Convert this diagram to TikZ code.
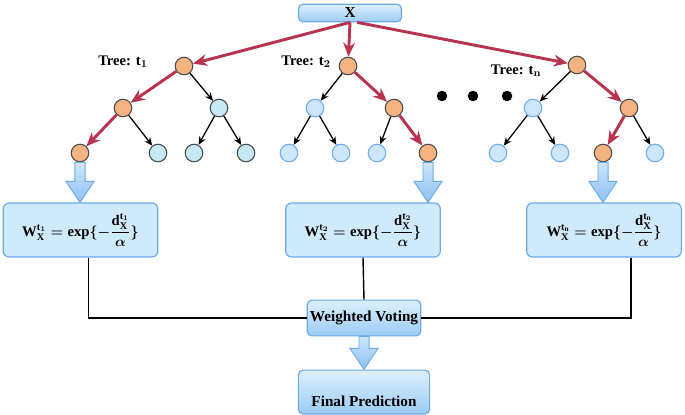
\documentclass[tikz,border=0pt]{standalone}
\usepackage{amsmath}
\usepackage{fontspec}
\setmainfont{Liberation Serif}
\usetikzlibrary{arrows.meta,calc}

\definecolor{pathred}{HTML}{B8334F}
\definecolor{hitorange}{HTML}{F6B382}
\definecolor{missgray}{HTML}{C6E9F6}
\definecolor{missblue}{HTML}{CDE6FA}
\definecolor{missline}{HTML}{6AAEF0}
\definecolor{boxfill}{HTML}{CFEAFB}
\definecolor{boxline}{HTML}{6AAAEA}
\definecolor{boxtop}{HTML}{DCF0FD}
\definecolor{boxbot}{HTML}{9CCBF4}
\definecolor{arrtop}{HTML}{CCE6FC}
\definecolor{arrbot}{HTML}{8CC0F2}

\tikzset{
  hit/.style={circle, draw=black!70, fill=hitorange, line width=0.9pt, minimum size=15pt, inner sep=0pt},
  missg/.style={circle, draw=black!70, fill=missgray, line width=0.9pt, minimum size=15pt, inner sep=0pt},
  missb/.style={circle, draw=missline, fill=missblue, line width=0.9pt, minimum size=15pt, inner sep=0pt},
  redge/.style={-{Stealth[length=12pt,width=10pt]}, line width=2.5pt, pathred},
  bedge/.style={-{Stealth[length=7pt,width=6pt]}, line width=1.1pt},
  formbox/.style={draw=boxline, fill=boxfill, line width=1pt, rounded corners=5pt,
    minimum width=132pt, minimum height=46pt, font=\fontsize{12.5}{14}\selectfont\bfseries\boldmath},
  shadebox/.style={draw=boxline, top color=boxtop, bottom color=boxbot, line width=1pt, rounded corners=4pt,
    font=\fontsize{13}{15}\selectfont\bfseries},
  fatarr/.style={draw=boxline, line width=0.8pt, top color=arrtop, bottom color=arrbot},
  treelabel/.style={font=\fontsize{12.5}{14}\selectfont\bfseries\boldmath},
  dot/.style={circle, fill=black, minimum size=9pt, inner sep=0pt},
  vote/.style={line width=1.2pt}
}

\newcommand{\fatarrow}[2]{%
  \draw[fatarr] let \p1=(#1), \p2=(#2) in
    (\x1-4.3pt,\y1) -- (\x1-4.3pt,\y2+18pt) -- (\x1-12pt,\y2+18pt) -- (\x1,\y2)
    -- (\x1+12pt,\y2+18pt) -- (\x1+4.3pt,\y2+18pt) -- (\x1+4.3pt,\y1) -- cycle;}

\begin{document}
\begin{tikzpicture}[x=0.03cm, y=-0.03cm]
\useasboundingbox (0,0) rectangle (685,414);

% input
\node[shadebox, minimum width=88pt, minimum height=15pt, inner sep=0pt] (x) at (350,13) {X};

% tree t1
\node[hit] (root1) at (184,66) {};
\node[hit] (n1L) at (123,108) {};
\node[missg] (n1R) at (219,108) {};
\node[hit] (n1LL) at (80,153) {};
\node[missg] (n1LR) at (158,153) {};
\node[missg] (n1RL) at (194,153) {};
\node[missg] (n1RR) at (246,153) {};
\node[treelabel] (lab1) at (123,62) {Tree: t$_1$};

% tree t2
\node[hit] (root2) at (348,66) {};
\node[missb] (n2L) at (315,108) {};
\node[hit] (n2R) at (394,108) {};
\node[missb] (n2LL) at (289,153) {};
\node[missb] (n2LR) at (341,153) {};
\node[missb] (n2RL) at (377,153) {};
\node[hit] (n2RR) at (428,153) {};
\node[treelabel] (lab2) at (306,62) {Tree: t$_2$};

% tree tn
\node[hit] (root3) at (577,65) {};
\node[missb] (n3L) at (533,108) {};
\node[hit] (n3R) at (629,108) {};
\node[missb] (n3LL) at (498,153) {};
\node[missb] (n3LR) at (560,153) {};
\node[hit] (n3RL) at (603,153) {};
\node[missb] (n3RR) at (655,153) {};
\node[treelabel] (lab3) at (516,71) {Tree: t$_{\mathbf{n}}$};

\node[dot] (d1) at (442,96) {};
\node[dot] (d2) at (473,96) {};
\node[dot] (d3) at (507,96) {};

% edges
\draw[redge] (x.south) -- (root1);
\draw[redge] (x.south) -- (root2);
\draw[redge] ([xshift=6pt]x.south) -- (root3);

\draw[redge] (root1) -- (n1L);
\draw[redge] (n1L) -- (n1LL);
\draw[bedge] (root1) -- (n1R);
\draw[bedge] (n1L) -- (n1LR);
\draw[bedge] (n1R) -- (n1RL);
\draw[bedge] (n1R) -- (n1RR);

\draw[redge] (root2) -- (n2R);
\draw[redge] (n2R) -- (n2RR);
\draw[bedge] (root2) -- (n2L);
\draw[bedge] (n2L) -- (n2LL);
\draw[bedge] (n2L) -- (n2LR);
\draw[bedge] (n2R) -- (n2RL);

\draw[redge] (root3) -- (n3R);
\draw[redge] (n3R) -- (n3RL);
\draw[bedge] (root3) -- (n3L);
\draw[bedge] (n3L) -- (n3LL);
\draw[bedge] (n3L) -- (n3LR);
\draw[bedge] (n3R) -- (n3RR);

% weights
\node[formbox] (f1) at (80.5,230) {$\textbf{W}^{\textbf{t}_1}_{\textbf{X}} = \textbf{exp}\{-\dfrac{\textbf{d}^{\textbf{t}_1}_{\textbf{X}}}{\alpha}\}$};
\node[formbox] (f2) at (363,230) {$\textbf{W}^{\textbf{t}_2}_{\textbf{X}} = \textbf{exp}\{-\dfrac{\textbf{d}^{\textbf{t}_2}_{\textbf{X}}}{\alpha}\}$};
\node[formbox] (f3) at (604,230) {$\textbf{W}^{\textbf{t}_\textbf{n}}_{\textbf{X}} = \textbf{exp}\{-\dfrac{\textbf{d}^{\textbf{t}_\textbf{n}}_{\textbf{X}}}{\alpha}\}$};

\fatarrow{n1LL.south}{f1.north}
\fatarrow{n2RR.south}{f2.north}
\fatarrow{n3RL.south}{f3.north}

% voting
\node[shadebox, minimum width=97pt, minimum height=30.5pt, inner sep=2pt] (wv) at (364,318) {Weighted Voting};
\node[shadebox, minimum width=112pt, text height=27pt, text depth=2.4pt, inner ysep=4pt] (fp) at (364,392) {Final Prediction};

\draw[vote] ([xshift=7pt]f1.south) |- (wv.west);
\draw[vote] (f2.south) -- (wv.north);
\draw[vote] ([xshift=23pt]f3.south) |- (wv.east);

\fatarrow{wv.south}{fp.north}
\end{tikzpicture}
\end{document}
